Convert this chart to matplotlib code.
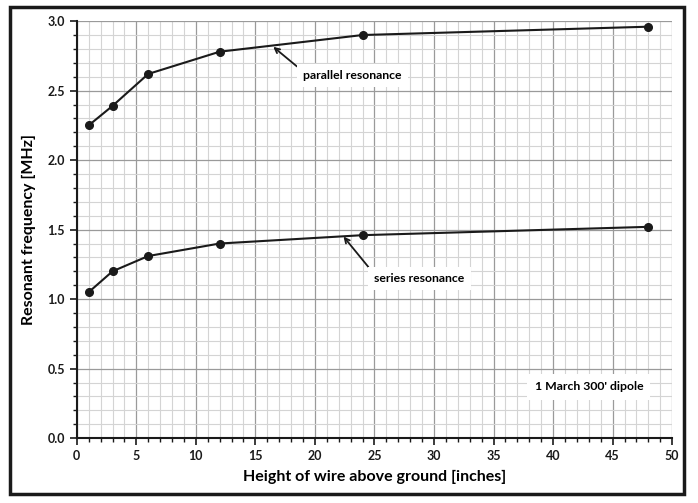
import matplotlib.pyplot as plt
from matplotlib.patches import Rectangle
from matplotlib.ticker import MultipleLocator

plt.rcParams['font.family'] = ['Lato', 'DejaVu Sans']
plt.rcParams['font.weight'] = 'bold'

# wire height (inches) vs measured resonances
height = [1, 3, 6, 12, 24, 48]
parallel_mhz = [2.25, 2.39, 2.62, 2.78, 2.90, 2.96]
series_mhz = [1.05, 1.20, 1.31, 1.40, 1.46, 1.52]

fig = plt.figure(figsize=(6.98, 5.03), dpi=100)
ax = fig.add_axes([0.110, 0.129, 0.853, 0.829])

ax.plot(height, parallel_mhz, color='#1a1a1a', lw=1.5, marker='o', ms=5.5, zorder=3)
ax.plot(height, series_mhz, color='#1a1a1a', lw=1.5, marker='o', ms=5.5, zorder=3)

ax.set_xlim(0, 50)
ax.set_ylim(0, 3.0)
ax.xaxis.set_major_locator(MultipleLocator(5))
ax.xaxis.set_minor_locator(MultipleLocator(1))
ax.yaxis.set_major_locator(MultipleLocator(0.5))
ax.yaxis.set_minor_locator(MultipleLocator(0.1))
ax.yaxis.set_major_formatter(plt.FormatStrFormatter('%.1f'))

ax.grid(which='major', color='#9a9a9a', lw=0.9)
ax.grid(which='minor', color='#d4d4d4', lw=0.8)
ax.set_axisbelow(True)

for s in ['top', 'right']:
    ax.spines[s].set_visible(False)
for s in ['left', 'bottom']:
    ax.spines[s].set_color('#1a1a1a')
    ax.spines[s].set_linewidth(1.5)

ax.tick_params(which='major', direction='out', length=5, width=1.2, labelsize=9, colors='#1a1a1a')
ax.tick_params(which='minor', direction='out', length=3, width=1.0, colors='#1a1a1a')

ax.set_xlabel('Height of wire above ground [inches]', fontsize=11.5, fontweight='bold', labelpad=6)
ax.set_ylabel('Resonant frequency [MHz]', fontsize=11.5, fontweight='bold', labelpad=8)

box = dict(boxstyle='square,pad=0.5', fc='white', ec='none')
arrow = dict(arrowstyle='->', color='#1a1a1a', lw=1.3, shrinkA=0, shrinkB=0, relpos=(0, 0.85))
ax.annotate('parallel resonance', xy=(16.5, 2.815), xytext=(19.0, 2.61),
            fontsize=8.8, fontweight='bold', va='center', ha='left',
            bbox=box, arrowprops=arrow, zorder=4)
ax.annotate('series resonance', xy=(22.4, 1.45), xytext=(25.0, 1.15),
            fontsize=8.8, fontweight='bold', va='center', ha='left',
            bbox=box, arrowprops=arrow, zorder=4)
ax.text(43.0, 0.37, "1 March 300' dipole", fontsize=8.8, fontweight='bold',
        ha='center', va='center', bbox=dict(boxstyle='square,pad=0.6', fc='white', ec='none'))

# outer frame around the whole chart
fig.patches.append(Rectangle((10 / 698, 9 / 503), 674 / 698, 487 / 503,
                             transform=fig.transFigure, fill=False,
                             ec='#1a1a1a', lw=2.5))

fig.savefig('out.png', dpi=100)
